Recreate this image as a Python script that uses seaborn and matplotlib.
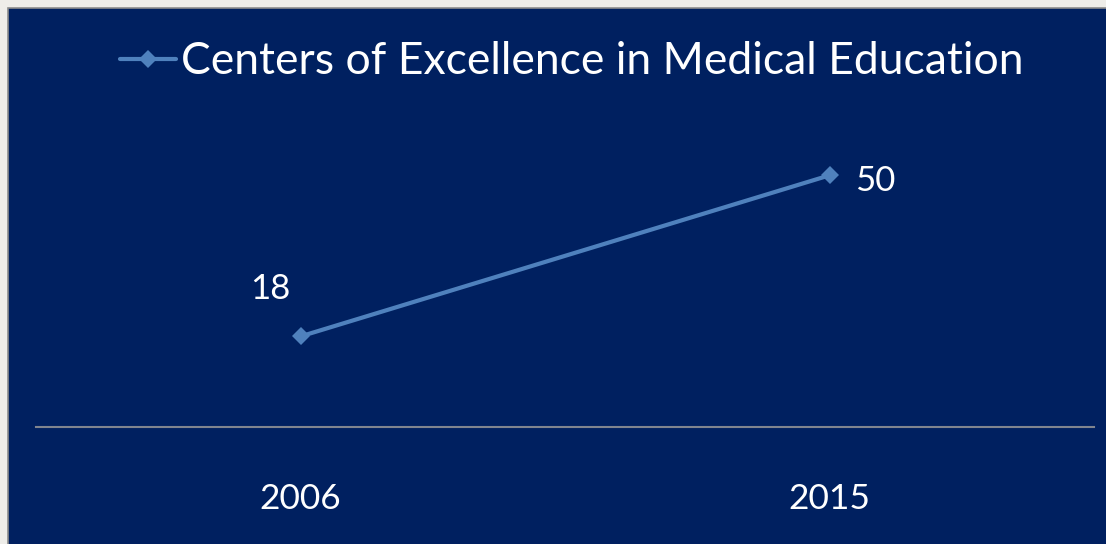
import matplotlib
matplotlib.use("Agg")
import matplotlib.pyplot as plt
import seaborn as sns
import pandas as pd
from matplotlib.patches import Rectangle

years = ["2006", "2015"]
centers = [18, 50]
series_name = "Centers of Excellence in Medical Education"

df = pd.DataFrame({"Year": years, "Centers": centers})

sns.set_theme(style="white")
plt.rcParams["font.family"] = ["Lato", "DejaVu Sans"]

navy = "#002060"
line_blue = "#4f81bd"

fig = plt.figure(figsize=(11.06, 5.44), dpi=100, facecolor="#eeede9")
# navy panel with thin grey frame on top/left
fig.patches.append(Rectangle((8 / 1106, -0.05), 1.1, (536 / 544) + 0.05,
                             transform=fig.transFigure, facecolor=navy,
                             edgecolor="#8c8c8c", linewidth=1.2, zorder=-10))

ax = fig.add_axes([36 / 1106, 117 / 544, 1058 / 1106, 302 / 544])
ax.set_facecolor("none")
ax.set_zorder(5)

sns.lineplot(data=df, x="Year", y="Centers", ax=ax, color=line_blue,
             linewidth=3, marker="D", markersize=9, markeredgewidth=0,
             label=series_name, sort=False)

ax.set_xlim(-0.5, 1.5)
ax.set_ylim(0, 60)
ax.set_xlabel("")
ax.set_ylabel("")
ax.set_yticks([])

for s in ["top", "left", "right"]:
    ax.spines[s].set_visible(False)
ax.spines["bottom"].set_color("#80858f")
ax.spines["bottom"].set_linewidth(1.5)
ax.tick_params(axis="x", length=0, pad=40, labelsize=25.5, labelcolor="white")

offsets = [(-22, 34), (33, -4)]
for i, (yr, val) in enumerate(zip(years, centers)):
    ax.annotate(str(val), (i, val), xytext=offsets[i], textcoords="offset points",
                ha="center", va="center", color="white", fontsize=25)

leg = ax.legend(loc="center", frameon=False, fontsize=32, labelcolor="white",
                handlelength=1.25, handletextpad=0.12)
leg.set_bbox_to_anchor((572 / 1106, 1 - 62 / 544), transform=fig.transFigure)

fig.savefig("out.png", dpi=100, facecolor=fig.get_facecolor())
